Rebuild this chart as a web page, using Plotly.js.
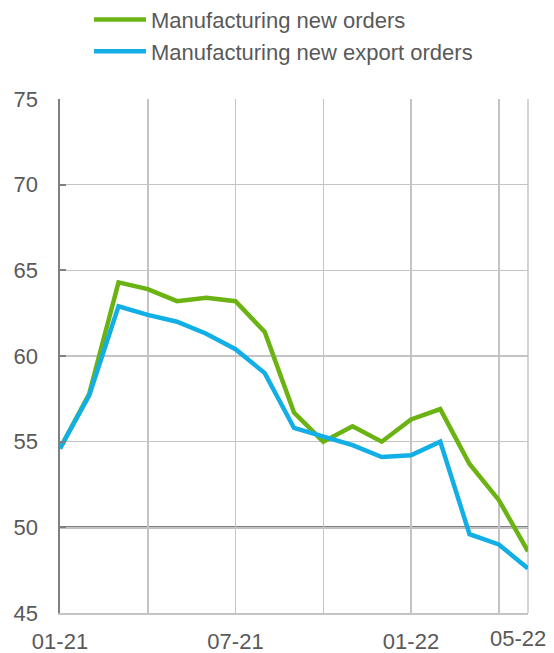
<!DOCTYPE html>
<html>
<head>
<meta charset="utf-8">
<script src="https://cdn.plot.ly/plotly-3.0.1.min.js"></script>
<style>html,body{margin:0;padding:0;background:#fff;}#chart{width:554px;height:653px;}</style>
</head>
<body>
<div id="chart"></div>
<script>
const months = ["01-21","02-21","03-21","04-21","05-21","06-21","07-21","08-21","09-21","10-21","11-21","12-21","01-22","02-22","03-22","04-22","05-22"];
const newOrders = [54.6, 57.8, 64.3, 63.9, 63.2, 63.4, 63.2, 61.4, 56.7, 55.0, 55.9, 55.0, 56.3, 56.9, 53.7, 51.6, 48.6];
const exportOrders = [54.6, 57.7, 62.9, 62.4, 62.0, 61.3, 60.4, 59.0, 55.8, 55.3, 54.8, 54.1, 54.2, 55.0, 49.6, 49.0, 47.6];
const seriesNames = ["Manufacturing new orders", "Manufacturing new export orders"];
const gridMonths = ["01-21","04-21","07-21","10-21","01-22","04-22"];
const gridLabels = ["01-21","","07-21","","01-22",""];
const lastLabel = "05-22";
const yTicks = [45, 50, 55, 60, 65, 70, 75];

const font = {family: "Liberation Sans, Arial, sans-serif", size: 22, color: "#595959"};

const traces = [
  {x: months, y: newOrders, name: seriesNames[0], type: "scatter", mode: "lines",
   line: {color: "#6AB312", width: 4.5}},
  {x: months, y: exportOrders, name: seriesNames[1], type: "scatter", mode: "lines",
   line: {color: "#12AEE6", width: 4.5}}
];

const layout = {
  width: 554, height: 653,
  margin: {l: 60, r: 26, t: 99, b: 40, pad: 0, autoexpand: false},
  paper_bgcolor: "#fff", plot_bgcolor: "#fff",
  font: font,
  showlegend: true,
  legend: {x: 0.062, y: 1.195, xanchor: "left", yanchor: "top",
           orientation: "v", font: font, bgcolor: "rgba(0,0,0,0)", tracegroupgap: 0, itemwidth: 52},
  xaxis: {type: "category", range: [0, months.length - 1], tickmode: "array", automargin: false, tickangle: 0,
          tickvals: gridMonths, ticktext: gridLabels, showgrid: true, gridcolor: "#C4C4C4", gridwidth: 1.5,
          showline: true, linecolor: "#C4C4C4", linewidth: 1.5, ticks: "", zeroline: false,
          ticklabelstandoff: 8, tickfont: font, fixedrange: true},
  yaxis: {range: [45, 75], tickmode: "array", tickvals: yTicks, showgrid: true, gridcolor: "#C4C4C4", gridwidth: 1.5,
          showline: true, linecolor: "#808080", linewidth: 2.5, ticks: "inside", ticklen: 6, tickcolor: "#808080",
          tickwidth: 2, zeroline: false, ticklabelstandoff: 15, tickfont: font, automargin: false, fixedrange: true},
  shapes: [
    {type: "line", xref: "paper", yref: "paper", x0: 1, x1: 1, y0: 0, y1: 1, line: {color: "#C4C4C4", width: 1.5}, layer: "below"},
    {type: "line", xref: "paper", yref: "y", x0: 0, x1: 1, y0: 50, y1: 50, line: {color: "#808080", width: 2.5}, layer: "below"}
  ],
  annotations: [
    {xref: "x", yref: "paper", x: months.length - 1, y: 0, text: lastLabel, showarrow: false,
     xanchor: "center", yanchor: "top", xshift: -10, yshift: -11, font: font}
  ]
};

Plotly.newPlot("chart", traces, layout, {displayModeBar: false, staticPlot: true});
</script>
</body>
</html>
